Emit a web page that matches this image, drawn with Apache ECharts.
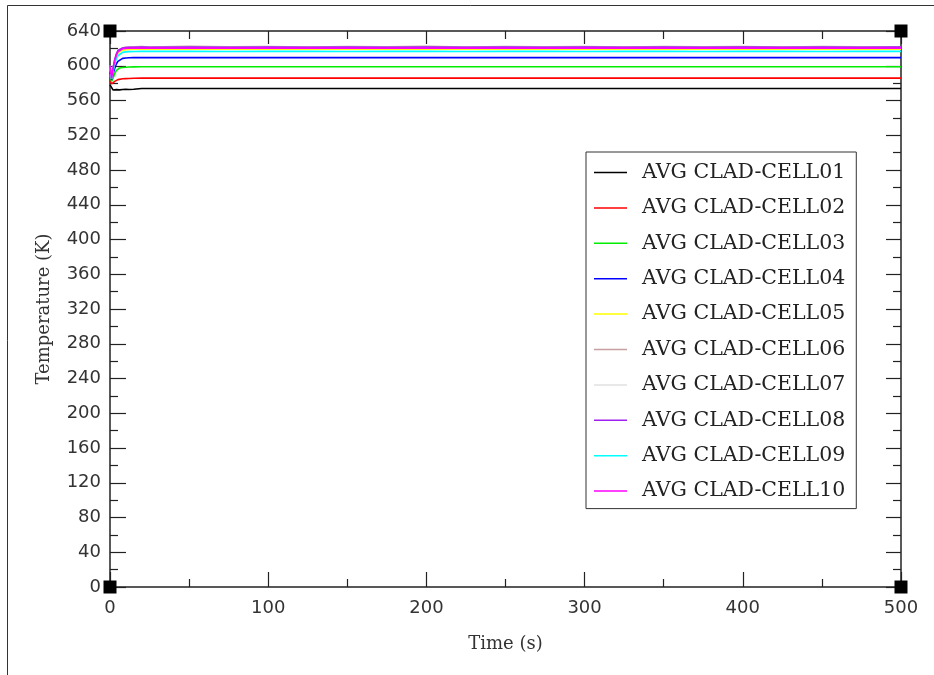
<!DOCTYPE html>
<html>
<head>
<meta charset="utf-8">
<script src="https://cdn.jsdelivr.net/npm/echarts@6/dist/echarts.min.js"></script>
<style>
  html, body { margin: 0; padding: 0; background: #fff; }
  #chart { width: 934px; height: 675px; }
</style>
</head>
<body>
<div id="chart"></div>
<script>
// Time samples (s)
const times = [0, 1, 2, 3, 4, 5, 6, 8, 10, 12, 15, 20,
  25, 50, 75, 100, 125, 150, 175, 200, 225, 250, 275, 300, 325, 350, 375, 400, 425, 450, 475, 500];

// Average cladding temperature per cell (K)
const cell01 = [578, 576, 572, 571.5, 572.5, 573, 572.2, 572.6, 573, 572.6, 572.9, 573.8,
  573.8, 573.8, 573.8, 573.8, 573.8, 573.8, 573.8, 573.8, 573.8, 573.8, 573.8, 573.8, 573.8, 573.8, 573.8, 573.8, 573.8, 573.8, 573.8, 573.8];
const cell02 = [583, 579, 580, 582, 583.5, 584, 584.5, 585, 585.2, 585.3, 585.6, 585.8,
  585.8, 585.8, 585.8, 585.8, 585.8, 585.8, 585.8, 585.8, 585.8, 585.8, 585.8, 585.8, 585.8, 585.8, 585.8, 585.8, 585.8, 585.8, 585.8, 585.8];
const cell03 = [590, 582, 586, 591, 594.5, 596.5, 597.5, 598, 598.3, 598.5, 598.7, 598.8,
  598.8, 598.8, 598.8, 598.8, 598.8, 598.8, 598.8, 598.8, 598.8, 598.8, 598.8, 598.8, 598.8, 598.8, 598.8, 598.8, 598.8, 598.8, 598.8, 598.8];
const cell04 = [595, 584, 591, 597, 602, 605, 607, 608.5, 609, 609.2, 609.3, 609.4,
  609.4, 609.4, 609.4, 609.4, 609.4, 609.4, 609.4, 609.4, 609.4, 609.4, 609.4, 609.4, 609.4, 609.4, 609.4, 609.4, 609.4, 609.4, 609.4, 609.4];
const cell05 = [598, 585, 596, 604, 610, 614.5, 616.5, 618, 618.6, 618.8, 619, 619,
  619, 619.1, 619, 619, 619.1, 619, 619, 619.1, 619, 619, 619.1, 619, 619, 619.1, 619, 619, 619.1, 619, 619, 619];
const cell06 = [600, 586, 598, 607, 613, 617.5, 619.5, 620.6, 621.2, 621.5, 621.8, 622,
  621.6, 622.3, 621.7, 622.1, 621.5, 622.2, 621.8, 622.3, 621.6, 622.1, 621.7, 622.2, 621.5, 622.1, 621.8, 622.2, 621.6, 622, 621.7, 621.9];
const cell07 = [600, 586, 597.5, 606.5, 612.5, 617, 619, 620.2, 620.7, 620.9, 621, 621,
  620.8, 621.2, 620.9, 621.1, 620.7, 621.2, 620.9, 621, 620.8, 621.2, 620.9, 621.1, 620.8, 621.1, 620.9, 621, 620.8, 621.2, 620.9, 621];
const cell08 = [600, 586, 598, 607, 613.5, 617.5, 619.5, 620.5, 621, 621.2, 621.3, 621.4,
  621.2, 621.6, 621.3, 621.5, 621.2, 621.6, 621.3, 621.5, 621.2, 621.6, 621.3, 621.5, 621.2, 621.5, 621.3, 621.6, 621.2, 621.5, 621.3, 621.4];
const cell09 = [598, 585, 594, 602, 608, 611.5, 613.8, 615.4, 616, 616.3, 616.4, 616.5,
  616.5, 616.5, 616.4, 616.5, 616.5, 616.4, 616.5, 616.5, 616.4, 616.5, 616.5, 616.4, 616.5, 616.5, 616.4, 616.5, 616.5, 616.4, 616.5, 616.5];
const cell10 = [599, 585.5, 597, 606, 612, 616, 618, 619.5, 620, 620.2, 620.3, 620.3,
  620.3, 620.4, 620.3, 620.3, 620.4, 620.3, 620.3, 620.4, 620.3, 620.3, 620.4, 620.3, 620.3, 620.4, 620.3, 620.3, 620.4, 620.3, 620.3, 620.3];

const seriesNames = ['AVG CLAD-CELL01', 'AVG CLAD-CELL02', 'AVG CLAD-CELL03', 'AVG CLAD-CELL04', 'AVG CLAD-CELL05',
  'AVG CLAD-CELL06', 'AVG CLAD-CELL07', 'AVG CLAD-CELL08', 'AVG CLAD-CELL09', 'AVG CLAD-CELL10'];
const seriesValues = [cell01, cell02, cell03, cell04, cell05, cell06, cell07, cell08, cell09, cell10];
const seriesColors = ['#000000', '#ff0000', '#00ee00', '#0000ff', '#ffff00',
  '#c8a0a0', '#e0e0e0', '#a020f0', '#00ffff', '#ff00ff'];

// Axis ranges
const xMin = 0, xMax = 500, xStep = 100;
const yMin = 0, yMax = 640, yStep = 40;
const cornerPoints = [[xMin, yMin], [xMin, yMax], [xMax, yMin], [xMax, yMax]];

const axisColor = '#222';
const labelFont = 'DejaVu Sans';
const serifFont = 'DejaVu Serif';

function xAxisDef(pos, showLabels, majorLen, minorLen) {
  return {
    type: 'value', position: pos, min: xMin, max: xMax, interval: xStep,
    axisLine: { show: true, onZero: false, lineStyle: { color: axisColor, width: 1.5 } },
    axisTick: { show: true, inside: true, length: majorLen, lineStyle: { color: axisColor, width: 1.2 } },
    minorTick: { show: true, splitNumber: 2, length: minorLen, lineStyle: { color: axisColor, width: 1.2 } },
    axisLabel: { show: showLabels, margin: 12, fontFamily: labelFont, fontSize: 18, color: '#333' },
    splitLine: { show: false }, minorSplitLine: { show: false }
  };
}
function yAxisDef(pos, showLabels, majorLen, minorLen) {
  return {
    type: 'value', position: pos, min: yMin, max: yMax, interval: yStep,
    axisLine: { show: true, onZero: false, lineStyle: { color: axisColor, width: 1.5 } },
    axisTick: { show: true, inside: true, length: majorLen, lineStyle: { color: axisColor, width: 1.2 } },
    minorTick: { show: true, splitNumber: 2, length: minorLen, lineStyle: { color: axisColor, width: 1.2 } },
    axisLabel: { show: showLabels, margin: 9, fontFamily: labelFont, fontSize: 18, color: '#333' },
    splitLine: { show: false }, minorSplitLine: { show: false }
  };
}

const xBottom = xAxisDef('bottom', true, 15, 8);
xBottom.name = 'Time (s)';
xBottom.nameLocation = 'middle';
xBottom.nameGap = 48;
xBottom.nameTextStyle = { fontFamily: serifFont, fontSize: 18, color: '#333' };
const xTop = xAxisDef('top', false, 13, 8);

const yLeft = yAxisDef('left', true, 16, 8);
yLeft.name = 'Temperature (K)';
yLeft.nameLocation = 'middle';
yLeft.nameGap = 57;
yLeft.nameTextStyle = { fontFamily: serifFont, fontSize: 18, color: '#333' };
const yRight = yAxisDef('right', false, 15, 8);

const lineSeries = seriesNames.map((name, i) => ({
  name: name,
  type: 'line',
  xAxisIndex: 0, yAxisIndex: 0,
  data: times.map((t, k) => [t, seriesValues[i][k]]),
  symbol: 'none',
  lineStyle: { color: seriesColors[i], width: 1.6 },
  itemStyle: { color: seriesColors[i] },
  emphasis: { disabled: true },
  animation: false
}));

// Black square markers at the plot corners
lineSeries.push({
  name: 'corners',
  type: 'scatter',
  xAxisIndex: 0, yAxisIndex: 0,
  data: cornerPoints,
  symbol: 'rect',
  symbolSize: 13,
  clip: false,
  itemStyle: { color: '#000', opacity: 1 },
  z: 10,
  silent: true,
  animation: false
});

const chart = echarts.init(document.getElementById('chart'), null, { renderer: 'canvas' });
chart.setOption({
  backgroundColor: '#fff',
  animation: false,
  grid: { left: 110, right: 33, top: 31, bottom: 88, containLabel: false },
  xAxis: [xBottom, xTop],
  yAxis: [yLeft, yRight],
  legend: {
    data: seriesNames,
    orient: 'vertical',
    left: 586, top: 152,
    padding: [10, 11, 7, 8],
    icon: 'rect',
    itemWidth: 33, itemHeight: 1.5, itemGap: 14.4,
    backgroundColor: '#fff',
    borderColor: '#333', borderWidth: 1, borderRadius: 0,
    textStyle: { fontFamily: serifFont, fontSize: 20.5, color: '#222', lineHeight: 20, padding: [0, 0, 0, 10] },
    selectedMode: false
  },
  graphic: [
    { type: 'line', shape: { x1: 7.5, y1: 5.5, x2: 7.5, y2: 675 }, style: { stroke: '#333', lineWidth: 1 } },
    { type: 'line', shape: { x1: 7.5, y1: 5.5, x2: 934, y2: 5.5 }, style: { stroke: '#333', lineWidth: 1 } }
  ],
  series: lineSeries
});
</script>
</body>
</html>
